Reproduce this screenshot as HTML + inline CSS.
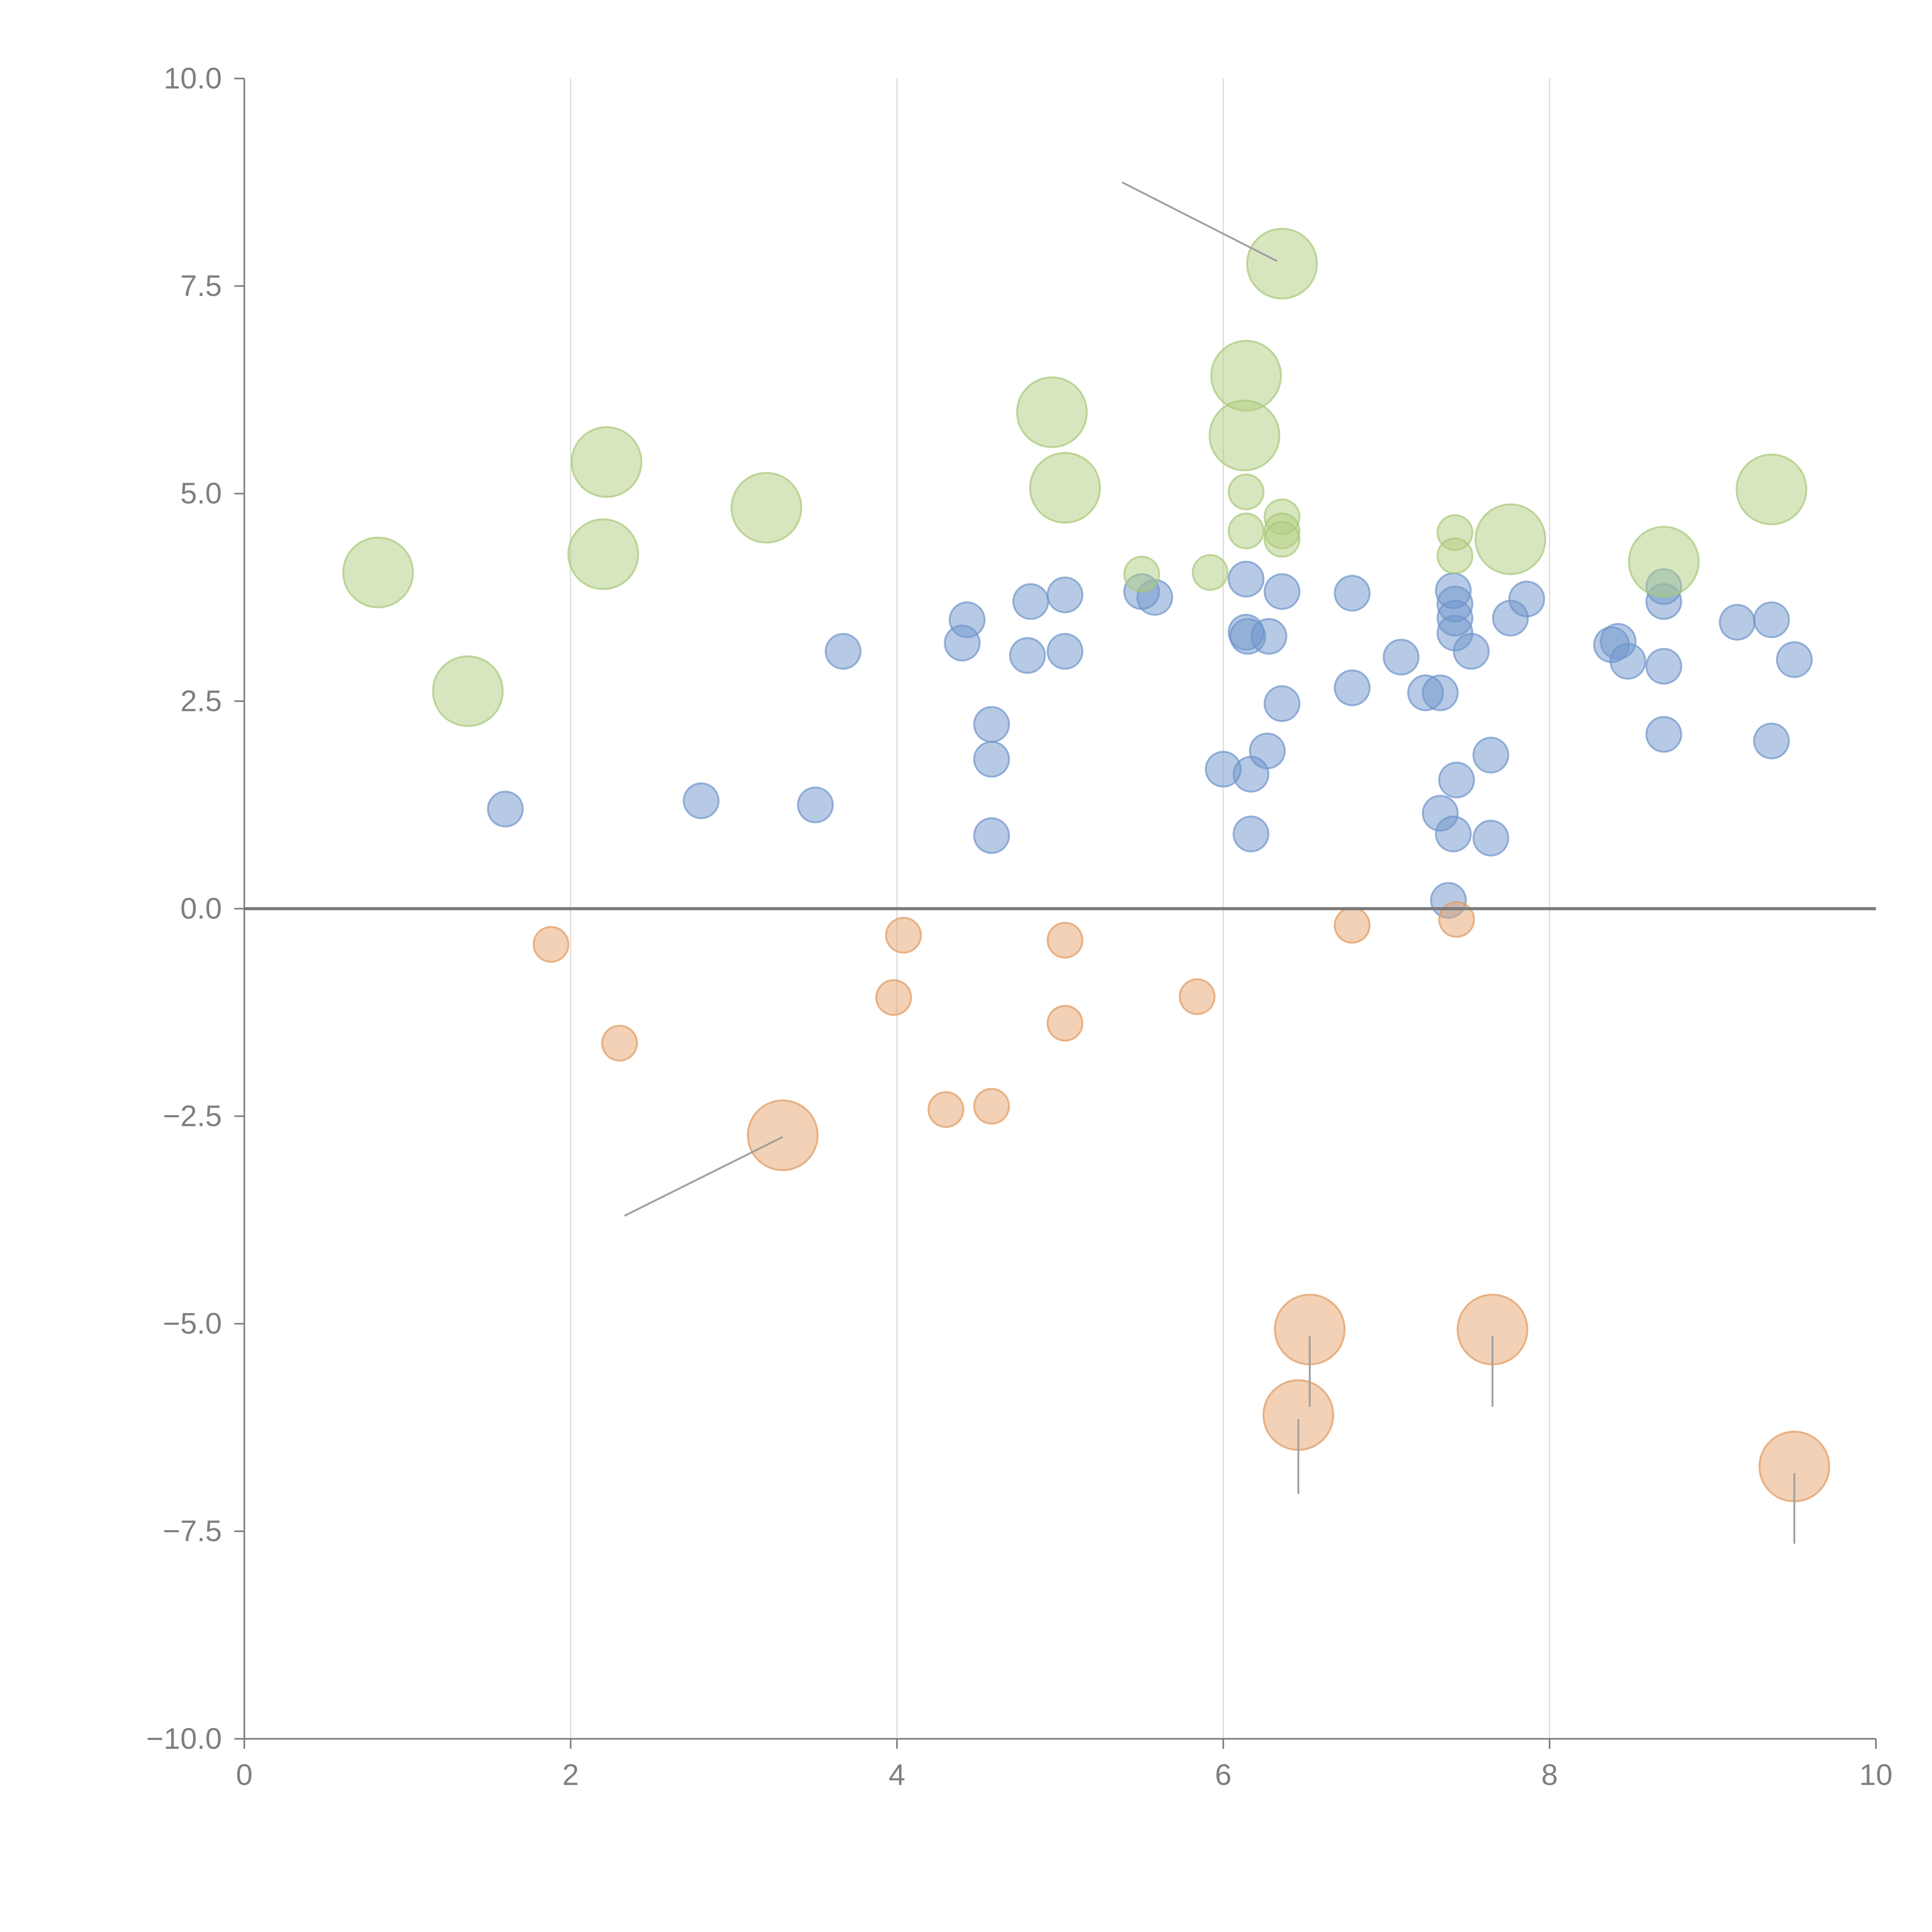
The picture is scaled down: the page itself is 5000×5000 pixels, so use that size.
<!DOCTYPE html>
<html><head><meta charset="utf-8"><style>
html,body{margin:0;padding:0;background:#fff;}
svg{display:block;}
text{font-family:"Liberation Sans",sans-serif;fill:#7f7f7f;}
</style></head><body>
<svg id="chart" width="5000" height="5000" viewBox="0 0 1550 1550" xmlns="http://www.w3.org/2000/svg">
<g id="grid"></g>
<g id="annot"></g>
<g id="marks"></g>
<g id="axes"></g>
</svg>
<script>
const xTicks=[0,2,4,6,8,10];
const yTicks=[10,7.5,5,2.5,0,-2.5,-5,-7.5,-10];
const yTickLabels=["10.0","7.5","5.0","2.5","0.0","\u22122.5","\u22125.0","\u22127.5","\u221210.0"];
const blueX=[1.6,2.8,3.5,3.67,4.4,4.43,4.58,4.58,4.58,4.8,4.82,5.03,5.03,5.5,5.58,6.0,6.14,6.14,6.15,6.17,6.17,6.27,6.28,6.36,6.36,6.79,6.79,7.09,7.24,7.33,7.33,7.38,7.41,7.41,7.42,7.42,7.42,7.43,7.52,7.64,7.64,7.76,7.86,8.38,8.42,8.48,8.7,8.7,8.7,8.7,9.15,9.36,9.36,9.5];
const blueY=[1.2,1.3,1.25,3.1,3.2,3.48,2.22,1.8,0.88,3.05,3.7,3.78,3.1,3.82,3.75,1.68,3.97,3.33,3.28,1.62,0.9,1.9,3.28,3.82,2.47,3.8,2.66,3.03,2.6,2.6,1.15,0.1,0.9,3.83,3.67,3.5,3.32,1.55,3.1,1.85,0.85,3.5,3.73,3.18,3.22,2.98,3.88,3.7,2.92,2.1,3.45,3.48,2.02,3.0];
const greenX=[5.5,5.92,6.14,6.14,6.36,6.36,6.36,7.42,7.42,0.82,1.37,2.22,2.2,3.2,4.95,5.03,6.14,6.13,6.36,7.76,8.7,9.36];
const greenY=[4.03,4.05,5.02,4.55,4.72,4.55,4.45,4.53,4.25,4.05,2.62,5.38,4.27,4.83,5.98,5.07,6.42,5.7,7.77,4.45,4.18,5.05];
const greenSize=[1,1,1,1,1,1,1,1,1,2,2,2,2,2,2,2,2,2,2,2,2,2];
const orangeX=[1.88,2.3,3.98,4.04,4.3,4.58,5.03,5.03,5.84,6.79,7.43,3.3,6.53,6.46,7.65,9.5];
const orangeY=[-0.43,-1.62,-1.07,-0.32,-2.42,-2.38,-0.38,-1.38,-1.06,-0.2,-0.13,-2.73,-5.07,-6.1,-5.07,-6.72];
const orangeSize=[1,1,1,1,1,1,1,1,1,1,1,2,2,2,2,2];
const blueSize=blueX.map(()=>1);
const annotX1=[5.38,2.33,6.53,6.46,7.65,9.5];
const annotY1=[8.75,-3.7,-5.15,-6.15,-5.15,-6.8];
const annotX2=[6.33,3.3,6.53,6.46,7.65,9.5];
const annotY2=[7.8,-2.75,-6.0,-7.05,-6.0,-7.65];

const NS="http://www.w3.org/2000/svg";
const X0=196,X1=1505,Y0=729,YT=63;
const sx=v=>X0+(X1-X0)*v/10;
const sy=v=>Y0-(Y0-YT)*v/10;
const sr=s=>s===1?14:28;
function mk(tag,attrs,parent){const e=document.createElementNS(NS,tag);for(const k in attrs)e.setAttribute(k,attrs[k]);parent.appendChild(e);return e;}
const grid=document.getElementById('grid'),axes=document.getElementById('axes'),marks=document.getElementById('marks'),annot=document.getElementById('annot');
xTicks.forEach(t=>{if(t>0&&t<10){const l=mk('line',{x1:sx(t),x2:sx(t),y1:sy(10),y2:sy(-10),stroke:'#dcdcdc','stroke-width':1},grid);

}});
let a=mk('line',{x1:X0,x2:X0,y1:sy(10),y2:sy(-10),stroke:'#808080','stroke-width':1.3},axes);


a=mk('line',{x1:X0,x2:X1,y1:sy(-10),y2:sy(-10),stroke:'#808080','stroke-width':1.3},axes);


a=mk('line',{x1:X0,x2:X1,y1:sy(0),y2:sy(0),stroke:'#7a7a7a','stroke-width':2.5},axes);


yTicks.forEach((t,i)=>{const tk=mk('line',{x1:X0-8,x2:X0,y1:sy(t),y2:sy(t),stroke:'#808080','stroke-width':1.3},axes);


const tx=mk('text',{x:X0-18,y:sy(t)+8,'text-anchor':'end','font-size':24},axes);tx.textContent=yTickLabels[i];

});
xTicks.forEach(t=>{const tk=mk('line',{x1:sx(t),x2:sx(t),y1:sy(-10),y2:sy(-10)+8,stroke:'#808080','stroke-width':1.3},axes);


const tx=mk('text',{x:sx(t),y:sy(-10)+37,'text-anchor':'middle','font-size':24},axes);tx.textContent=String(t);

});
function series(xs,ys,ss,fill,stroke,name){xs.forEach((x,i)=>{const c=mk('circle',{cx:sx(x),cy:sy(ys[i]),r:sr(ss[i]),fill:fill,'fill-opacity':0.5,stroke:stroke,'stroke-opacity':0.7,'stroke-width':1.5},marks);

});}
series(blueX,blueY,blueSize,'#6f95cc','#6f95cc','blue-bubble');
series(greenX,greenY,greenSize,'#b1cd80','#a8c878','green-bubble');
series(orangeX,orangeY,orangeSize,'#e6a46e','#e19a60','orange-bubble');
annotX1.forEach((x,i)=>{const l=mk('line',{x1:sx(x),y1:sy(annotY1[i]),x2:sx(annotX2[i]),y2:sy(annotY2[i]),stroke:'#a0a0a0','stroke-width':1.5},annot);

});
document.getElementById('chart').appendChild(annot);
</script>
</body></html>
